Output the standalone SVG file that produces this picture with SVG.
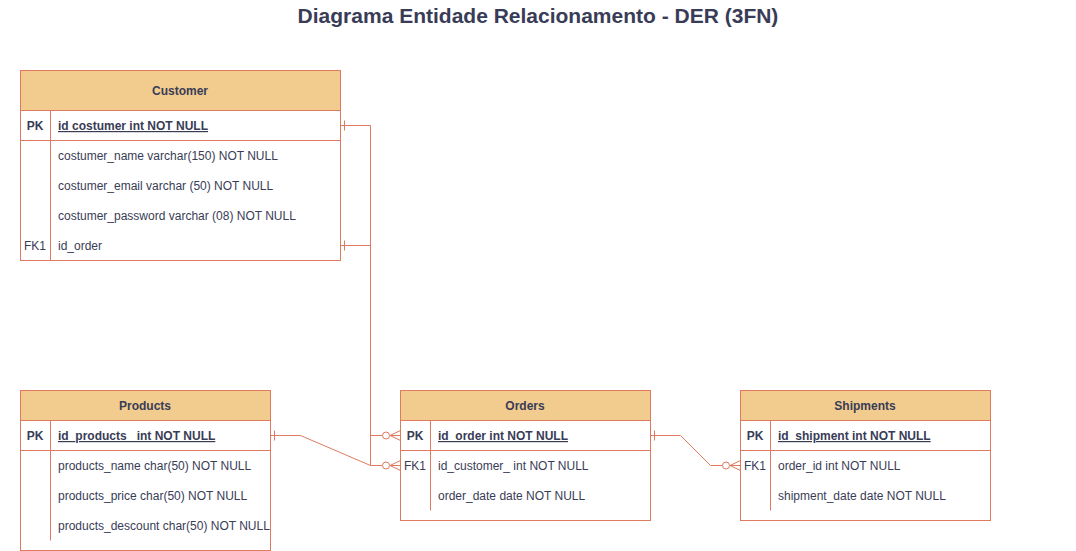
<svg xmlns="http://www.w3.org/2000/svg" width="1076" height="551" viewBox="0 0 1076 551">
<style>
text{font-family:"Liberation Sans",Arial,sans-serif;font-size:12px;fill:#393C56}
.title{font-size:21px;font-weight:bold;text-anchor:middle}
.hdr{font-weight:bold;text-anchor:middle}
.key{text-anchor:middle}
.pk{font-weight:bold;text-decoration:underline}
.box{fill:#fff;stroke:#E07A5F;stroke-width:1}
.head{fill:#F2CC8F;stroke:#E07A5F;stroke-width:1}
.ln{fill:none;stroke:#E07A5F;stroke-width:1}
</style>
<rect width="1076" height="551" fill="#fff"/>
<text class="title" x="538" y="23">Diagrama Entidade Relacionamento - DER (3FN)</text>

<g id="customer">
<rect class="box" x="20.5" y="70.5" width="320" height="190"/>
<rect class="head" x="20.5" y="70.5" width="320" height="40"/>
<line class="ln" x1="20.5" y1="140.5" x2="340.5" y2="140.5"/>
<line class="ln" x1="50.5" y1="110.5" x2="50.5" y2="260.5"/>
<text class="hdr" x="180" y="95">Customer</text>
<text class="key" x="35" y="130" font-weight="bold">PK</text>
<text class="pk" x="58" y="130">id costumer int NOT NULL</text>
<text x="58" y="160">costumer_name varchar(150) NOT NULL</text>
<text x="58" y="190">costumer_email varchar (50) NOT NULL</text>
<text x="58" y="220">costumer_password varchar (08) NOT NULL</text>
<text class="key" x="35" y="250">FK1</text>
<text x="58" y="250">id_order</text>
</g>

<g id="products">
<rect class="box" x="20.5" y="390.5" width="250" height="160"/>
<rect class="head" x="20.5" y="390.5" width="250" height="30"/>
<line class="ln" x1="20.5" y1="450.5" x2="270.5" y2="450.5"/>
<line class="ln" x1="50.5" y1="420.5" x2="50.5" y2="540.5"/>
<text class="hdr" x="145" y="410">Products</text>
<text class="key" x="35" y="440" font-weight="bold">PK</text>
<text class="pk" x="58" y="440">id_products_ int NOT NULL</text>
<text x="58" y="470">products_name char(50) NOT NULL</text>
<text x="58" y="500">products_price char(50) NOT NULL</text>
<text x="58" y="530">products_descount char(50) NOT NULL</text>
</g>

<g id="orders">
<rect class="box" x="400.5" y="390.5" width="250" height="130"/>
<rect class="head" x="400.5" y="390.5" width="250" height="30"/>
<line class="ln" x1="400.5" y1="450.5" x2="650.5" y2="450.5"/>
<line class="ln" x1="430.5" y1="420.5" x2="430.5" y2="510.5"/>
<text class="hdr" x="525" y="410">Orders</text>
<text class="key" x="415" y="440" font-weight="bold">PK</text>
<text class="pk" x="438" y="440">id_order int NOT NULL</text>
<text class="key" x="415" y="470">FK1</text>
<text x="438" y="470">id_customer_ int NOT NULL</text>
<text x="438" y="500">order_date date NOT NULL</text>
</g>

<g id="shipments">
<rect class="box" x="740.5" y="390.5" width="250" height="130"/>
<rect class="head" x="740.5" y="390.5" width="250" height="30"/>
<line class="ln" x1="740.5" y1="450.5" x2="990.5" y2="450.5"/>
<line class="ln" x1="770.5" y1="420.5" x2="770.5" y2="510.5"/>
<text class="hdr" x="865" y="410">Shipments</text>
<text class="key" x="755" y="440" font-weight="bold">PK</text>
<text class="pk" x="778" y="440">id_shipment int NOT NULL</text>
<text class="key" x="755" y="470">FK1</text>
<text x="778" y="470">order_id int NOT NULL</text>
<text x="778" y="500">shipment_date date NOT NULL</text>
</g>

<g id="connectors">
<path class="ln" d="M340.5 125.5 H370.5 V465.5 H382"/>
<line class="ln" x1="344.5" y1="120.5" x2="344.5" y2="130.5"/>
<circle class="ln" cx="386" cy="465.5" r="3.5"/>
<path class="ln" d="M400.5 460.5 L390 465.5 L400.5 470.5 M390 465.5 H400.5"/>
<path class="ln" d="M340.5 245.5 H370.5 V435.5 H382"/>
<line class="ln" x1="344.5" y1="240.5" x2="344.5" y2="250.5"/>
<circle class="ln" cx="386" cy="435.5" r="3.5"/>
<path class="ln" d="M400.5 430.5 L390 435.5 L400.5 440.5 M390 435.5 H400.5"/>
<path class="ln" d="M270.5 435.5 H300.5 L370.5 465.5"/>
<line class="ln" x1="274.5" y1="430.5" x2="274.5" y2="440.5"/>
<path class="ln" d="M650.5 435.5 H680.5 L710.5 465.5 H722"/>
<line class="ln" x1="654.5" y1="430.5" x2="654.5" y2="440.5"/>
<circle class="ln" cx="726" cy="465.5" r="3.5"/>
<path class="ln" d="M740.5 460.5 L730 465.5 L740.5 470.5 M730 465.5 H740.5"/>
</g>
</svg>
